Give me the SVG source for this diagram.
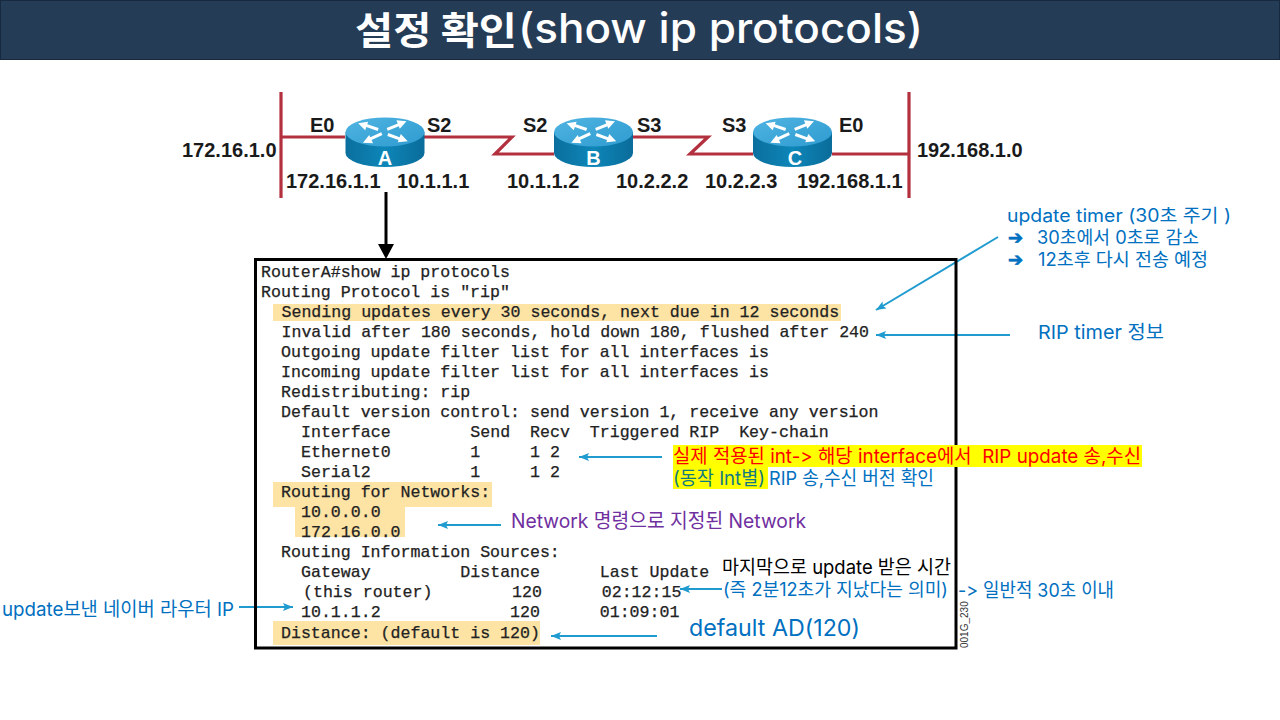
<svg xmlns="http://www.w3.org/2000/svg" width="1280" height="720" viewBox="0 0 1280 720">
<style>
.lbl{font-family:"Liberation Sans",Arial,sans-serif;font-weight:700;font-size:20px;fill:#1a1a1a}
.rl{font-family:"Liberation Sans",Arial,sans-serif;font-weight:700;font-size:20px;fill:#fff;text-anchor:middle}
.net{fill:none;stroke:#b3303f;stroke-width:3.2}
.mono{font-family:"Liberation Mono","Courier New",monospace;font-size:16.6px;fill:#222;white-space:pre;stroke:#222;stroke-width:.25}
.hl{fill:#fde3a4}
.yl{fill:#ffff00}
.note{font-family:"Inter","Noto Sans CJK KR",sans-serif;font-size:19px;fill:#0070c0;white-space:pre;font-variant-ligatures:none;font-feature-settings:"calt" 0}
.bul{font-family:"DejaVu Sans",sans-serif;font-weight:700;font-size:18px;fill:#0070c0;stroke:#0070c0;stroke-width:.7}
.call{fill:none;stroke:#1f9bcf;stroke-width:2;marker-end:url(#ah)}
</style>
<defs>
<marker id="ah" markerUnits="userSpaceOnUse" markerWidth="12" markerHeight="10" refX="10" refY="4" orient="auto"><path d="M0 0L10 4L0 8L2 4Z" fill="#1f9bcf"/></marker>
<linearGradient id="side" x1="0" x2="1" y1="0" y2="0"><stop offset="0" stop-color="#0b6f9e"/><stop offset=".5" stop-color="#0d86b8"/><stop offset="1" stop-color="#0a6c9a"/></linearGradient>
<linearGradient id="top" x1="0" x2="1" y1="0" y2="1"><stop offset="0" stop-color="#4fb4e2"/><stop offset="1" stop-color="#2f9bd0"/></linearGradient>
<path id="arw" d="M0-1H12V-4.500L21 0L12 4.500V2H0Z" fill="#fff"/>
<g id="router">
<path d="M-39.500 0V21A39.500 14 0 0 0 39.500 21V0Z" fill="url(#side)"/>
<ellipse cx="0" cy="0" rx="39.500" ry="14.500" fill="url(#top)"/>
<use href="#arw" transform="translate(-7,-2) rotate(199)"/>
<use href="#arw" transform="translate(2,-3) rotate(-22)"/>
<use href="#arw" transform="translate(-3,2) rotate(155)"/>
<use href="#arw" transform="translate(3,2) rotate(20)"/>
</g>
</defs>
<rect width="1280" height="720" fill="#fff"/>
<g id="title">
<rect x="0.5" y="0.5" width="1279" height="59" fill="#253c56" stroke="#16293f"/>
<text x="355" y="44" textLength="162" lengthAdjust="spacingAndGlyphs" font-family="'Noto Sans CJK KR',sans-serif" font-weight="700" font-size="38" fill="#fff">설정 확인</text>
<text x="518" y="43" textLength="405" lengthAdjust="spacingAndGlyphs" font-family="Inter,sans-serif" font-weight="500" font-size="41" fill="#fff">(show ip protocols)</text>
</g>
<g id="connectors">
<path class="net" d="M281 92V198M909 92V198M281 137H345M424 137H512L495 154H554M633 137H708L690 154H753M832 154H909"/>
<path d="M386 192V246" stroke="#000" stroke-width="3" fill="none"/>
<path d="M378 244H394L386 259Z" fill="#000"/>
<path class="call" d="M998 237L876 310"/>
<path class="call" d="M1010 335H876"/>
<path class="call" d="M662 457H579"/>
<path class="call" d="M501 525H438"/>
<path class="call" d="M722 589H680"/>
<path class="call" d="M657 636H551"/>
<path class="call" d="M239 607H293"/>
</g>
<g id="router-a"><use href="#router" x="385" y="132"/><text class="rl" x="385" y="165">A</text></g>
<g id="router-b"><use href="#router" x="593.500" y="132"/><text class="rl" x="593.500" y="165">B</text></g>
<g id="router-c"><use href="#router" x="792.500" y="132"/><text class="rl" x="795" y="165">C</text></g>
<g id="net-labels">
<text class="lbl" x="182" y="157">172.16.1.0</text>
<text class="lbl" x="917" y="157">192.168.1.0</text>
<text class="lbl" x="310" y="132">E0</text>
<text class="lbl" x="427" y="132">S2</text>
<text class="lbl" x="523" y="132">S2</text>
<text class="lbl" x="637" y="132">S3</text>
<text class="lbl" x="722" y="132">S3</text>
<text class="lbl" x="839" y="132">E0</text>
<text class="lbl" x="286" y="188">172.16.1.1</text>
<text class="lbl" x="397" y="188">10.1.1.1</text>
<text class="lbl" x="507" y="188">10.1.1.2</text>
<text class="lbl" x="616" y="188">10.2.2.2</text>
<text class="lbl" x="705" y="188">10.2.2.3</text>
<text class="lbl" x="797" y="188">192.168.1.1</text>
</g>
<g id="terminal">
<rect x="255.500" y="259.500" width="700.500" height="388.500" fill="none" stroke="#000" stroke-width="3"/>
<rect class="hl" x="273" y="304" width="568" height="17"/>
<rect class="hl" x="273" y="482" width="219" height="25"/>
<rect class="hl" x="295" y="507" width="110" height="30"/>
<rect class="hl" x="273" y="621" width="267" height="24"/>
<text class="mono" x="261" y="276.500">RouterA#show ip protocols</text>
<text class="mono" x="261" y="296.500">Routing Protocol is "rip"</text>
<text class="mono" x="281.500" y="316.500">Sending updates every 30 seconds, next due in 12 seconds</text>
<text class="mono" x="281.500" y="336.500">Invalid after 180 seconds, hold down 180, flushed after 240</text>
<text class="mono" x="281" y="356.500">Outgoing update filter list for all interfaces is</text>
<text class="mono" x="281" y="376.500">Incoming update filter list for all interfaces is</text>
<text class="mono" x="281" y="396.500">Redistributing: rip</text>
<text class="mono" x="281" y="416.500">Default version control: send version 1, receive any version</text>
<text class="mono" x="301" y="436.500">Interface        Send  Recv  Triggered RIP  Key-chain</text>
<text class="mono" x="301" y="457">Ethernet0        1     1 2</text>
<text class="mono" x="301" y="477">Serial2          1     1 2</text>
<text class="mono" x="281" y="497">Routing for Networks:</text>
<text class="mono" x="301" y="517">10.0.0.0</text>
<text class="mono" x="301" y="537">172.16.0.0</text>
<text class="mono" x="281" y="557">Routing Information Sources:</text>
<text class="mono" x="301" y="577">Gateway         Distance      Last Update</text>
<text class="mono" x="303" y="597">(this router)        120      02:12:15</text>
<text class="mono" x="301" y="617">10.1.1.2             120      01:09:01</text>
<text class="mono" x="281" y="638">Distance: (default is 120)</text>
<text transform="translate(968,648) rotate(-90)" font-family="Liberation Sans,Arial,sans-serif" font-size="10" fill="#333">001G_230</text>
</g>
<g id="notes">
<rect class="yl" x="673" y="445" width="469" height="22"/>
<rect class="yl" x="673" y="467" width="95" height="22"/>
<text class="note" x="1007" y="222" textLength="224" lengthAdjust="spacingAndGlyphs" style="font-size:18px">update timer (30초 주기 )</text>
<text class="bul" x="1008" y="244">➔</text>
<text class="note" x="1037" y="244" textLength="162" lengthAdjust="spacingAndGlyphs" style="font-size:18px">30초에서 0초로 감소</text>
<text class="bul" x="1008" y="266">➔</text>
<text class="note" x="1038" y="266" textLength="170" lengthAdjust="spacingAndGlyphs" style="font-size:18px">12초후 다시 전송 예정</text>
<text class="note" x="1038" y="339" textLength="126" lengthAdjust="spacingAndGlyphs">RIP timer 정보</text>
<text class="note" x="673" y="463" textLength="468" lengthAdjust="spacingAndGlyphs" style="fill:#f00">실제 적용된 int-&gt; 해당 interface에서  RIP update 송,수신</text>
<text class="note" x="673" y="485" textLength="92" lengthAdjust="spacingAndGlyphs" style="fill:#127a80">(동작 Int별)</text>
<text class="note" x="769" y="485" textLength="165" lengthAdjust="spacingAndGlyphs">RIP 송,수신 버전 확인</text>
<text class="note" x="511" y="528" textLength="295" lengthAdjust="spacingAndGlyphs" style="fill:#7030a0;font-size:20px">Network 명령으로 지정된 Network</text>
<text class="note" x="722" y="574" textLength="229" lengthAdjust="spacingAndGlyphs" style="fill:#000">마지막으로 update 받은 시간</text>
<text class="note" x="723" y="596" textLength="225" lengthAdjust="spacingAndGlyphs" style="font-size:18px">(즉 2분12초가 지났다는 의미)</text>
<text class="note" x="958" y="597" textLength="156" lengthAdjust="spacingAndGlyphs">-&gt; 일반적 30초 이내</text>
<text class="note" x="689" y="636" textLength="171" lengthAdjust="spacingAndGlyphs" style="font-size:23px">default AD(120)</text>
<text class="note" x="2" y="616" textLength="232" lengthAdjust="spacingAndGlyphs">update보낸 네이버 라우터 IP</text>
</g>
</svg>
